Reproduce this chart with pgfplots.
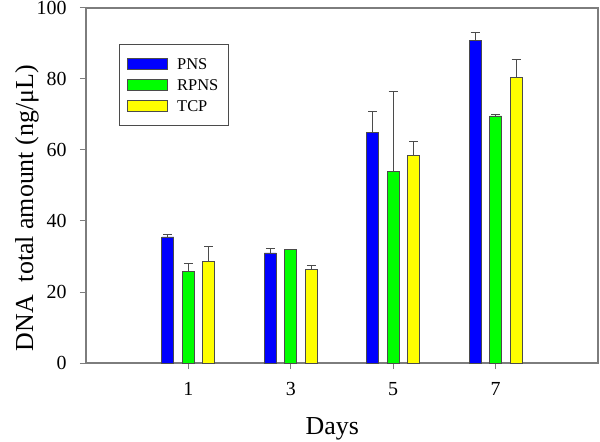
\documentclass[border=0pt]{standalone}
\usepackage{pgfplots}
\pgfplotsset{compat=1.18}
\usepackage{pgfplotstable}
\usepackage{fontspec}
\setmainfont{Liberation Serif}
\definecolor{axgray}{RGB}{125,125,125}
\definecolor{edgegray}{RGB}{75,75,75}
\pgfplotstableread{
x y e
1 35.5 0.8
3 31.0 1.3
5 65.0 5.8
7 90.8 2.4
}\pns
\pgfplotstableread{
x y e
1 25.8 2.2
3 32.1 0.0
5 54.0 22.5
7 69.6 0.4
}\rpns
\pgfplotstableread{
x y e
1 28.5 4.2
3 26.3 1.3
5 58.5 3.8
7 80.4 5.2
}\tcp
\begin{document}
\begin{tikzpicture}
\useasboundingbox (-86bp,-79bp) rectangle (514bp,363bp);
\begin{axis}[
  at={(0,0)}, anchor=south west,
  scale only axis,
  width=512bp, height=355bp,
  xmin=-1, xmax=9, ymin=0, ymax=100,
  xtick={1,3,5,7},
  ytick={0,20,40,60,80,100},
  axis line style={draw=axgray, line width=1.3bp},
  tick style={draw=axgray, line width=1bp},
  tick align=outside,
  major tick length=6bp,
  xtick pos=bottom, ytick pos=left,
  /pgf/number format/assume math mode=true,
  tick label style={font=\fontsize{20}{22}\selectfont},
  yticklabel style={xshift=-10bp},
  xticklabel style={yshift=-9.5bp},
  xlabel={Days},
  ylabel={DNA\ \ total amount (ng/μL)},
  xlabel style={font=\fontsize{26}{28}\selectfont, at={(axis description cs:0.481,-0.2)}, anchor=base},
  ylabel style={font=\fontsize{26}{30}\selectfont, at={(axis description cs:-0.1035,0.436)}, anchor=base},
  ybar=8.5bp, bar width=12bp,
  legend style={at={(0.0645,0.8986)}, anchor=north west, draw=edgegray, line width=0.8bp,
    font=\fontsize{16.5}{19}\selectfont, inner xsep=8bp, inner ysep=12bp,
    row sep=6bp, nodes={inner sep=2bp, text height=11bp, text depth=0bp},
    /tikz/every odd column/.append style={column sep=7bp}},
  legend cell align=left,
  legend image code/.code={\draw[#1, line width=0.8bp] (0bp,-5.5bp) rectangle (40bp,5.5bp);},
  error bars/y dir=plus, error bars/y explicit,
  error bars/error bar style={draw=edgegray, line width=0.9bp},
  error bars/error mark options={draw=edgegray, line width=0.9bp, rotate=90, mark size=4.5bp},
]
\addplot[fill={rgb,255:red,0;green,0;blue,255}, draw=edgegray, line width=0.8bp] table[x=x, y=y, y error=e] {\pns};
\addplot[fill={rgb,255:red,0;green,255;blue,0}, draw=edgegray, line width=0.8bp] table[x=x, y=y, y error=e] {\rpns};
\addplot[fill={rgb,255:red,255;green,255;blue,0}, draw=edgegray, line width=0.8bp] table[x=x, y=y, y error=e] {\tcp};
\legend{PNS, RPNS, TCP}
\end{axis}
\end{tikzpicture}
\end{document}
